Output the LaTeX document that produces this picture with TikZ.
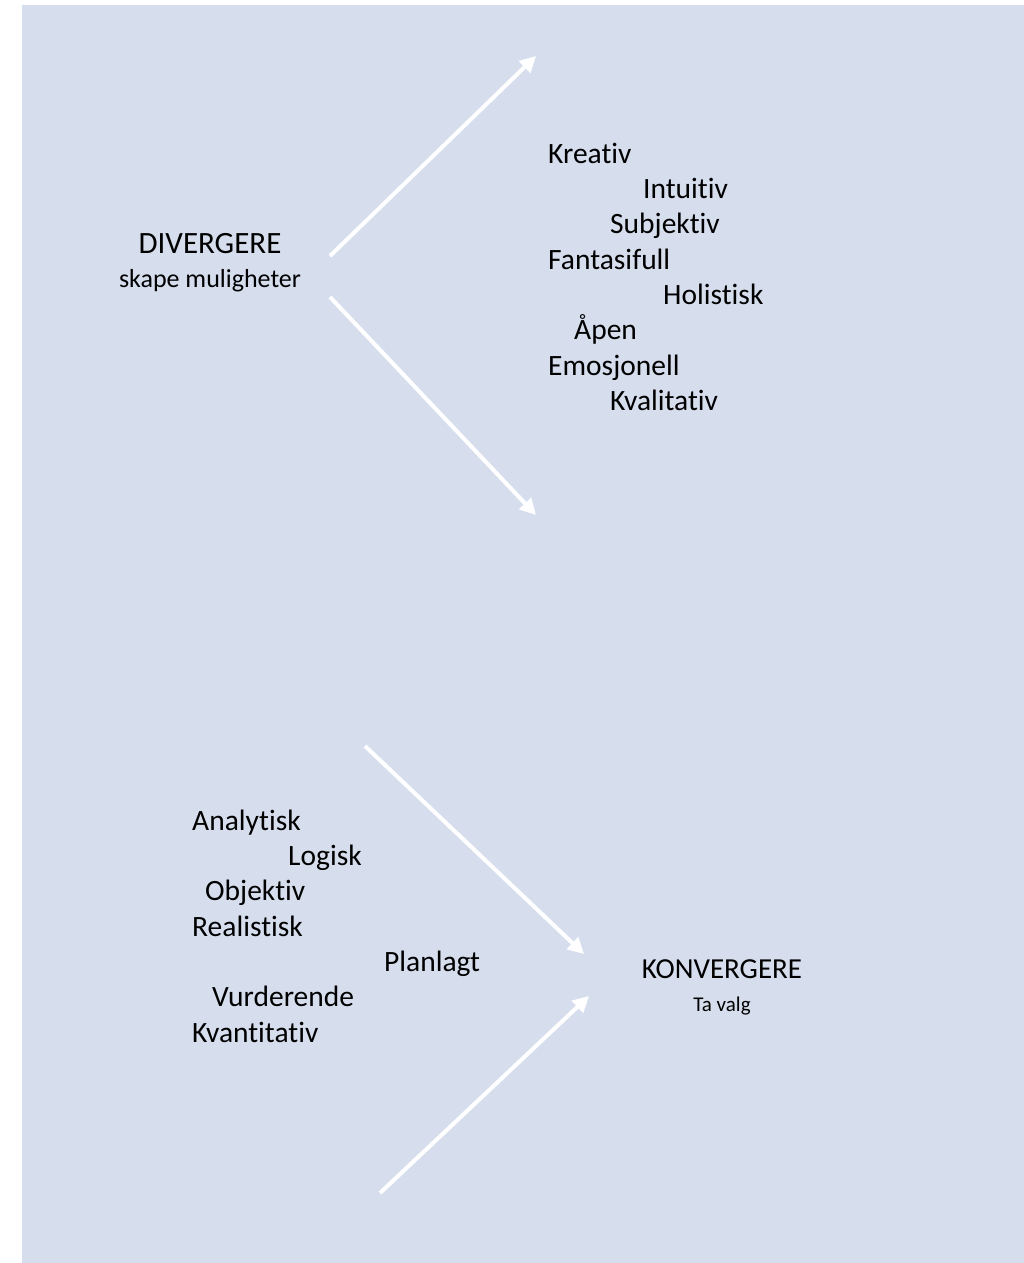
\documentclass[tikz,border=0pt]{standalone}
\usepackage{fontspec}
\setmainfont{Carlito}[Ligatures=NoCommon]
\usetikzlibrary{arrows.meta,positioning}
\definecolor{bgblue}{RGB}{214,222,238}

\begin{document}
\begin{tikzpicture}[x=1pt,y=-1pt,
  word/.style={anchor=base west,inner sep=0pt,font=\fontsize{29.5}{30}\selectfont},
  head/.style={anchor=base,inner sep=0pt,font=\fontsize{31}{31}\selectfont},
  sub/.style={anchor=base,inner sep=0pt,font=\fontsize{26}{26}\selectfont},
  flow/.style={draw=white,line width=4pt,-{Triangle[length=16pt,width=16pt]}}]

  \useasboundingbox (0,0) rectangle (1024,1263);
  \fill[bgblue] (22,5) rectangle (1024,1263);

  % divergent side
  \node [head] (div) at (210,253) {DIVERGERE};
  \node [sub] (divsub) at (210,287) {skape muligheter};

  \node [word] (kreativ) at (548,163) {Kreativ};
  \node [word] (intuitiv) at (643,198.3) {Intuitiv};
  \node [word] (subjektiv) at (610,233.6) {Subjektiv};
  \node [word] (fantasi) at (548,269) {Fantasifull};
  \node [word] (holist) at (663,304.3) {Holistisk};
  \node [word] (apen) at (574,339.6) {Åpen};
  \node [word] (emosj) at (548,375) {Emosjonell};
  \node [word] (kvalit) at (610,410.3) {Kvalitativ};

  \coordinate (d1) at (330,256);
  \coordinate (d2) at (536,56);
  \coordinate (d3) at (330,297);
  \coordinate (d4) at (536,515);
  \draw[flow] (d1) -- (d2);
  \draw[flow] (d3) -- (d4);

  % convergent side
  \node [head,font=\fontsize{29}{29}\selectfont] (kon) at (722,978) {KONVERGERE};
  \node [sub,font=\fontsize{21}{21}\selectfont] (konsub) at (722,1011) {Ta valg};

  \node [word] (analyt) at (192,830) {Analytisk};
  \node [word] (logisk) at (288,865.3) {Logisk};
  \node [word] (objekt) at (205,900.6) {Objektiv};
  \node [word] (realist) at (192,936) {Realistisk};
  \node [word] (planlagt) at (384,971.3) {Planlagt};
  \node [word] (vurder) at (212,1006.6) {Vurderende};
  \node [word] (kvantit) at (192,1042) {Kvantitativ};

  \coordinate (k1) at (365,746);
  \coordinate (k2) at (584,954);
  \coordinate (k3) at (380,1193);
  \coordinate (k4) at (589,996);
  \draw[flow] (k1) -- (k2);
  \draw[flow] (k3) -- (k4);

\end{tikzpicture}
\end{document}
